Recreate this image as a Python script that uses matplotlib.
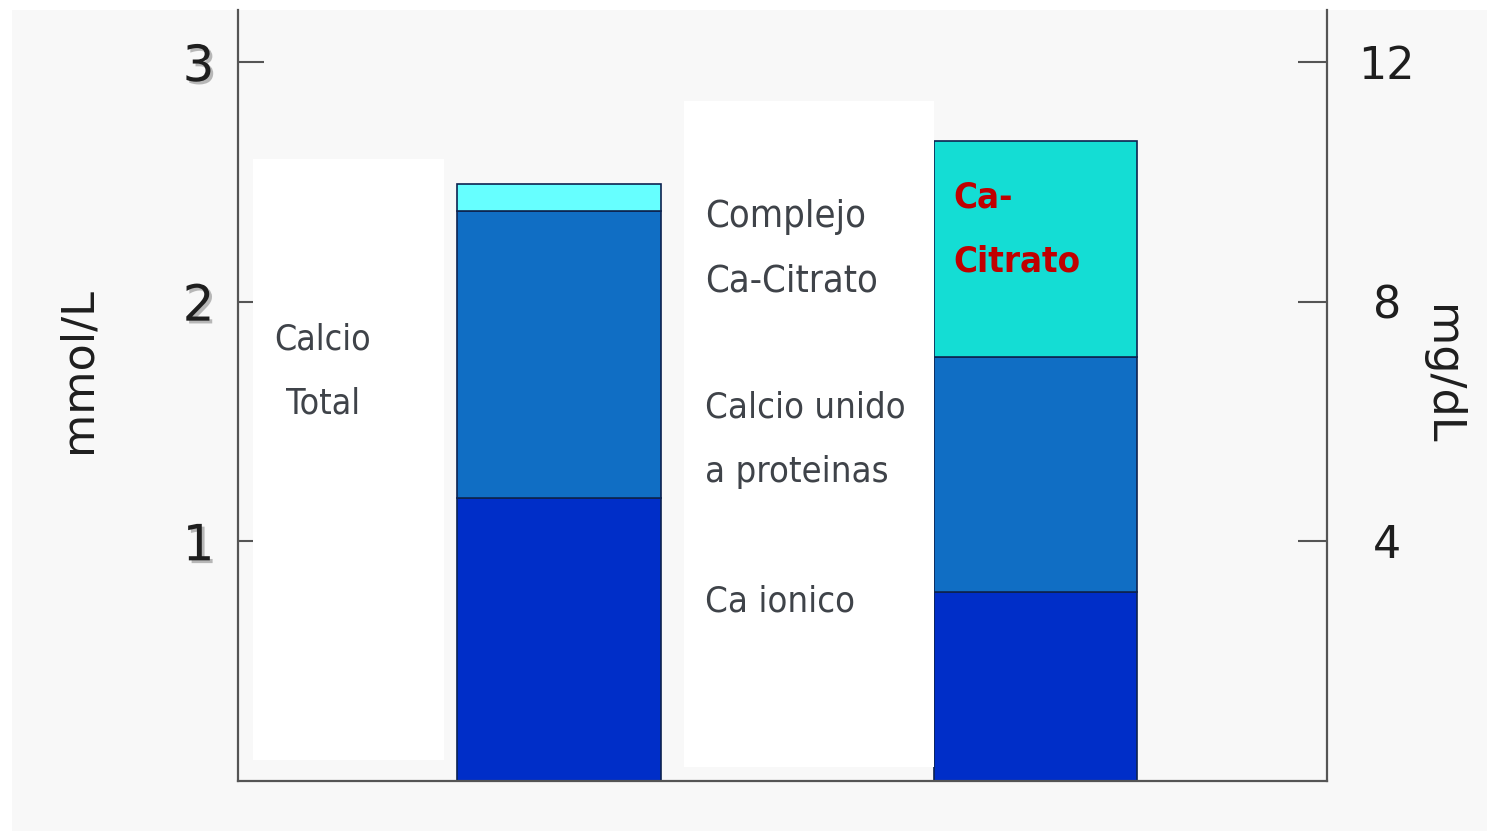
import matplotlib
matplotlib.use("Agg")
import matplotlib.pyplot as plt
from matplotlib.patches import Rectangle
from matplotlib import patheffects as pe
from matplotlib import font_manager as fm

# values (mmol/L)
grupos = ["Calcio Total", "Ca-Citrato"]
ca_ionico = [1.18, 0.79]
ca_proteinas = [1.20, 0.98]
ca_complejo = [0.11, 0.90]
mmol_ticks = [1, 2, 3]
mgdl_ticks = [4, 8, 12]

W, H = 1487, 831
GRIS = "#3f4349"


def fx(x):
    return x / W


def fy(y):
    return 1 - y / H


def narrow_font(bold=False):
    # look for any narrow / condensed face that is installed
    found = []
    for f in fm.fontManager.ttflist:
        key = (f.name + " " + f.fname).lower()
        if "narrow" in key or "condensed" in key:
            is_bold = f.weight in ("bold", 700, "heavy", 800, 900) or "bold" in f.fname.lower()
            if "oblique" in f.fname.lower() or "italic" in f.fname.lower():
                continue
            if is_bold == bold:
                found.append(f)
    if found:
        found.sort(key=lambda f: ("liberation" not in f.fname.lower(), f.fname))
        return fm.FontProperties(fname=found[0].fname)
    return fm.FontProperties(family="DejaVu Sans", weight="bold" if bold else "normal")


fig = plt.figure(figsize=(W / 100, H / 100), dpi=100, facecolor="white")
fig.patches.append(Rectangle((fx(12), 0), 1, fy(10), transform=fig.transFigure,
                             facecolor="#f8f8f8", edgecolor="none", zorder=-5))

ax = fig.add_axes([fx(238), fy(781), fx(1327) - fx(238), fy(10) - fy(781)])
ax.set_facecolor("none")

pos = [0, 1]
ancho = 0.428
borde = dict(edgecolor="#0d2350", linewidth=1.2)
ax.bar(pos, ca_ionico, ancho, color="#002ec8", **borde)
ax.bar(pos, ca_proteinas, ancho, bottom=ca_ionico, color="#106ec4", **borde)
base = [a + b for a, b in zip(ca_ionico, ca_proteinas)]
ax.bar(pos, ca_complejo, ancho, bottom=base, color=["#66ffff", "#14ddd4"], **borde)

# white label panels
for x0, y0, x1, y1 in [(253, 159, 444, 760), (684, 101, 934, 767)]:
    ax.add_patch(Rectangle((fx(x0), fy(y1)), fx(x1) - fx(x0), fy(y0) - fy(y1),
                           transform=fig.transFigure, facecolor="white",
                           edgecolor="none", zorder=2))

ax.set_xlim(-0.674, 1.612)
ax.set_ylim(0, 3.217)
ax.set_xticks([])
ax.set_yticks(mmol_ticks)
ax.set_yticklabels([str(t) for t in mmol_ticks])
ax.tick_params(axis="y", direction="in", length=19, width=1.5, color="#555555",
               pad=17, labelsize=36, labelcolor="#1e1e1e")
for lbl in ax.get_yticklabels():
    lbl.set_path_effects([pe.withSimplePatchShadow(offset=(2, -2), shadow_rgbFace="#777777", alpha=0.5)])
ax.spines["top"].set_visible(False)
for s in ["left", "bottom", "right"]:
    ax.spines[s].set_color("#555555")
    ax.spines[s].set_linewidth(1.6)

ax2 = ax.twinx()
ax2.set_ylim(0, 3.217 * 4)
for s in ax2.spines.values():
    s.set_visible(False)
ax2.set_yticks(mgdl_ticks)
ax2.set_yticklabels([str(t) for t in mgdl_ticks])
ax2.tick_params(axis="y", direction="in", length=21, width=1.5, color="#555555",
                pad=43, labelsize=32, labelcolor="#1e1e1e")
for lbl in ax2.get_yticklabels():
    lbl.set_horizontalalignment("center")

fig.text(fx(78), fy(370), "mmol/L", rotation=90, ha="center", va="center",
         fontsize=32, color="#1e1e1e")
fig.text(fx(1442), fy(375), "mg/dL", rotation=270, ha="center", va="center",
         fontsize=32, color="#1e1e1e")

renderer = fig.canvas.get_renderer()


def label(x, baselines, lines, ancho_px, bold=False, **kw):
    # one text per line, sized so the widest line spans ancho_px
    fp = narrow_font(bold)
    fp.set_size(30)
    textos = [fig.text(fx(x), fy(b), s, va="baseline", fontproperties=fp, **kw)
              for b, s in zip(baselines, lines)]
    w = max(t.get_window_extent(renderer).width for t in textos)
    fp.set_size(30 * ancho_px / w)
    for t in textos:
        t.set_fontproperties(fp)
    return textos


label(323, [349, 413], ["Calcio", "Total"], 97, ha="center", color=GRIS)
label(705, [227, 291], ["Complejo", "Ca-Citrato"], 173, ha="left", color=GRIS)
label(705, [418, 482], ["Calcio unido", "a proteinas"], 200, ha="left", color=GRIS)
label(705, [611], ["Ca ionico"], 150, ha="left", color=GRIS)
label(953, [207, 271], ["Ca-", "Citrato"], 127, bold=True, ha="left", color="#c00000")

fig.savefig("out.png", dpi=100, facecolor=fig.get_facecolor())
